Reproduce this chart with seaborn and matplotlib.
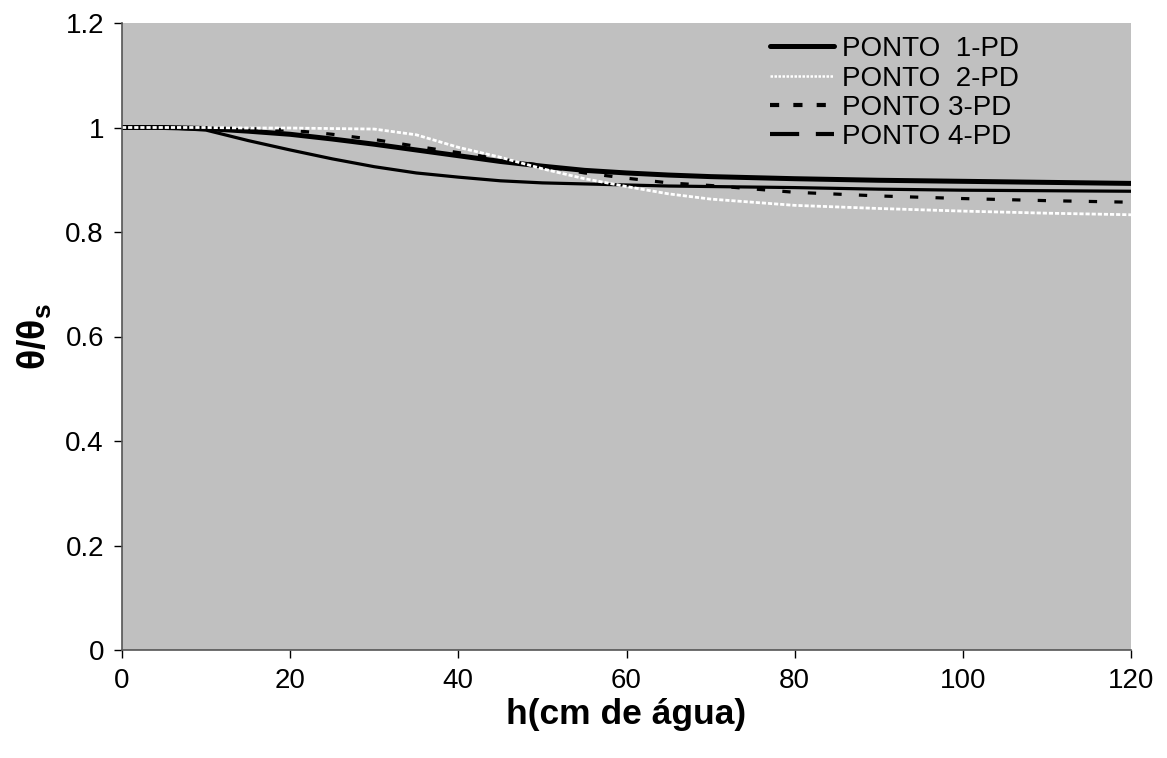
import matplotlib
matplotlib.use("Agg")
import matplotlib.pyplot as plt
from matplotlib.lines import Line2D
import seaborn as sns
import pandas as pd

h = [0, 5, 10, 15, 20, 25, 30, 35, 40, 45, 50, 55, 60, 65, 70, 80, 90, 100, 110, 120]
ponto1 = [1.0, 1.0, 0.998, 0.993, 0.987, 0.978, 0.968, 0.957, 0.946, 0.935, 0.926, 0.918, 0.913, 0.909, 0.906, 0.902, 0.899, 0.897, 0.895, 0.893]
ponto2 = [1.0, 1.0, 1.0, 0.999, 0.999, 0.998, 0.997, 0.986, 0.962, 0.943, 0.921, 0.902, 0.887, 0.873, 0.863, 0.851, 0.845, 0.840, 0.836, 0.833]
ponto3 = [1.0, 1.0, 0.999, 0.998, 0.995, 0.987, 0.977, 0.964, 0.952, 0.940, 0.927, 0.913, 0.903, 0.894, 0.889, 0.876, 0.869, 0.864, 0.860, 0.857]
ponto4 = [1.0, 1.0, 0.995, 0.975, 0.957, 0.940, 0.925, 0.913, 0.905, 0.898, 0.894, 0.892, 0.890, 0.888, 0.887, 0.885, 0.882, 0.880, 0.879, 0.878]
labels = ["PONTO  1-PD", "PONTO  2-PD", "PONTO 3-PD", "PONTO 4-PD"]

df = pd.concat([
    pd.DataFrame({"h": h, "v": vals, "serie": lab})
    for vals, lab in zip([ponto1, ponto2, ponto3, ponto4], labels)
])

sns.set_theme(style="white")
plt.rcParams['font.family'] = ['Liberation Sans', 'DejaVu Sans']
plt.rcParams['mathtext.fontset'] = 'custom'
plt.rcParams['mathtext.bf'] = 'Liberation Sans:bold'
plt.rcParams['mathtext.rm'] = 'Liberation Sans'
plt.rcParams['text.color'] = 'black'
plt.rcParams['axes.labelcolor'] = 'black'
plt.rcParams['xtick.color'] = 'black'
plt.rcParams['ytick.color'] = 'black'

fig = plt.figure(figsize=(11.67, 7.58), dpi=100)
ax = fig.add_axes([122/1167, 108/758, (1131-122)/1167, (650-23)/758])
ax.set_facecolor('#C0C0C0')

palette = {labels[0]: 'black', labels[1]: 'white', labels[2]: 'black', labels[3]: 'black'}
dashes = {labels[0]: '', labels[1]: (1.5, 0.7), labels[2]: (2.6, 5.4), labels[3]: ''}
sizes = {labels[0]: 3.6, labels[1]: 2.0, labels[2]: 2.3, labels[3]: 2.3}

sns.lineplot(data=df, x="h", y="v", hue="serie", style="serie", size="serie",
             palette=palette, dashes=dashes, sizes=sizes, legend=False, ax=ax,
             hue_order=[labels[3], labels[0], labels[2], labels[1]])

ax.set_xlim(0, 120)
ax.set_ylim(0, 1.2)
ax.set_xticks([0, 20, 40, 60, 80, 100, 120])
ax.set_yticks([0, 0.2, 0.4, 0.6, 0.8, 1.0, 1.2])
ax.set_yticklabels(["0", "0.2", "0.4", "0.6", "0.8", "1", "1.2"])
ax.tick_params(axis='both', direction='out', length=6, width=1, color='black',
               labelsize=20, pad=7, left=True, bottom=True)
for s in ['top', 'right']:
    ax.spines[s].set_visible(False)
for s in ['left', 'bottom']:
    ax.spines[s].set_color('#555555')
    ax.spines[s].set_linewidth(1.2)

ax.set_xlabel("h(cm de água)", fontsize=25.5, fontweight='bold', labelpad=3)
ax.set_ylabel(r"θ/θ$_\mathbf{s}$", fontsize=27, fontweight='bold', labelpad=8)

handles = [
    Line2D([], [], color='black', lw=3.6),
    Line2D([], [], color='white', lw=1.8, linestyle=(0, (1, 0.6))),
    Line2D([], [], color='black', lw=3.0, linestyle=(0, (2.2, 3.4))),
    Line2D([], [], color='black', lw=3.0, linestyle=(0, (7, 4))),
]
leg = ax.legend(handles, labels, loc='upper left', bbox_to_anchor=(0.623, 1.01),
                frameon=False, fontsize=20, handlelength=2.3, handletextpad=0.29,
                labelspacing=0.12, borderaxespad=0.3)

fig.savefig("out.png", dpi=100)
